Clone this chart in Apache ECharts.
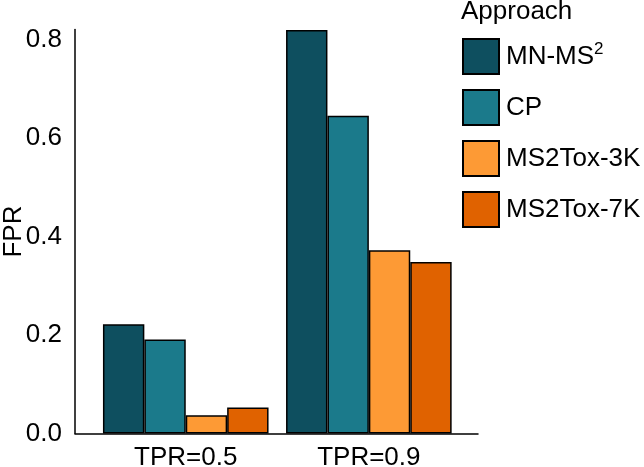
<!DOCTYPE html>
<html>
<head>
<meta charset="utf-8">
<script src="https://cdn.jsdelivr.net/npm/echarts@6/dist/echarts.min.js"></script>
<style>
html,body{margin:0;padding:0;background:#fff;}
#chart{width:644px;height:467px;}
</style>
</head>
<body>
<div id="chart"></div>
<script>
const categories = ['TPR=0.5', 'TPR=0.9'];
const seriesNames = ['MN-MS2', 'CP', 'MS2Tox-3K', 'MS2Tox-7K'];
const mnms2 = [0.222, 0.819];
const cp = [0.191, 0.645];
const ms2tox3k = [0.037, 0.372];
const ms2tox7k = [0.053, 0.348];
const yTicks = [0, 0.2, 0.4, 0.6, 0.8];

const colors = ['#0e4f5f', '#1b7a8b', '#fd9a35', '#e06200'];
const values = [mnms2, cp, ms2tox3k, ms2tox7k];
const font = 'Liberation Sans, Arial, Helvetica, sans-serif';
const FS = 26;

const chart = echarts.init(document.getElementById('chart'));
const gridTop = 29.6, gridBottom = 467 - 433.5;
chart.setOption({
  animation: false,
  backgroundColor: '#fff',
  textStyle: {fontFamily: font},
  title: {
    text: 'Approach', left: 461, top: -1, padding: 0,
    textStyle: {fontFamily: font, fontSize: FS, fontWeight: 'normal', color: '#000'}
  },
  legend: {
    orient: 'vertical', left: 462, top: 38, padding: 0,
    itemWidth: 36, itemHeight: 35, itemGap: 14,
    icon: 'rect',
    data: seriesNames,
    formatter: function (n) { return n === 'MN-MS2' ? 'MN-MS{sup|2}' : n; },
    textStyle: {
      fontFamily: font, fontSize: FS, color: '#000', padding: [0, 0, 0, 2],
      rich: {sup: {fontFamily: font, fontSize: 17, verticalAlign: 'top', padding: [0, 0, 14, 0], color: '#000'}}
    }
  },
  grid: [
    {left: 75, top: gridTop, width: 403, bottom: gridBottom, outerBoundsMode: 'none', containLabel: false},
    {left: 94.2, top: gridTop, width: 366.2, bottom: gridBottom, outerBoundsMode: 'none', containLabel: false}
  ],
  xAxis: [
    {type: 'category', gridIndex: 0, data: categories,
     axisLine: {show: true, lineStyle: {color: '#000', width: 1.5}},
     axisTick: {show: false}, axisLabel: {show: false}, splitLine: {show: false}},
    {type: 'category', gridIndex: 1, data: categories,
     axisLine: {show: false}, axisTick: {show: false},
     axisLabel: {show: true, fontFamily: font, fontSize: FS, color: '#000', margin: 11}}
  ],
  yAxis: [
    {type: 'value', gridIndex: 0, min: 0, max: 0.82, interval: 0.2,
     name: 'FPR', nameLocation: 'middle', nameRotate: 90, nameGap: 48, nameMoveOverlap: false,
     nameTextStyle: {fontFamily: font, fontSize: FS, color: '#000'},
     axisLine: {show: true, lineStyle: {color: '#000', width: 1.5}},
     axisTick: {show: false}, splitLine: {show: false},
     axisLabel: {fontFamily: font, fontSize: FS, color: '#000', margin: 13, showMaxLabel: false,
                 formatter: function (v) { return yTicks.some(t => Math.abs(t - v) < 1e-9) ? v.toFixed(1) : ''; }}},
    {type: 'value', gridIndex: 1, min: 0, max: 0.82, interval: 0.2, show: false}
  ],
  series: seriesNames.map((name, i) => ({
    name: name, type: 'bar', xAxisIndex: 1, yAxisIndex: 1,
    data: values[i], barWidth: 41.4, barGap: '0%',
    itemStyle: {color: colors[i], borderColor: '#000', borderWidth: 1.5}
  }))
});
</script>
</body>
</html>
